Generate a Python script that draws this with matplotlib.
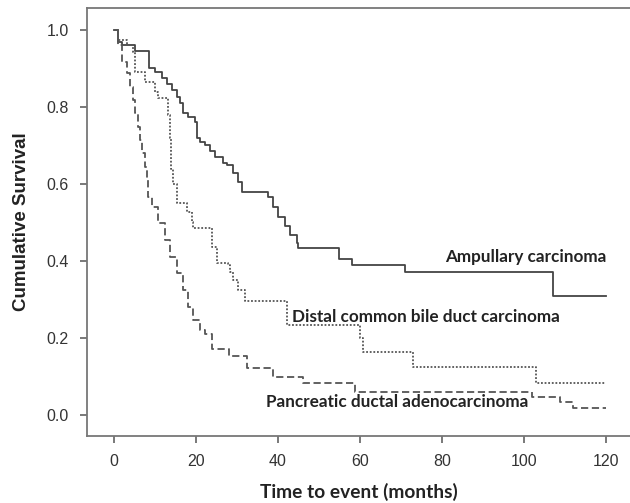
import matplotlib
matplotlib.use("Agg")
import matplotlib.pyplot as plt


# Kaplan-Meier steps (months, cumulative survival):

amp_t = [0, 1, 2, 5, 8.5, 10, 11.7, 13, 14.1, 15.4, 16, 16.8, 18, 19.8, 20.2,
         21, 22.2, 23.5, 24.6, 26.6, 27.5, 29, 30.2, 31.2, 37.6, 38.8, 40,
         41.7, 42.9, 44.6, 45, 55, 58, 71, 107, 120]
amp_s = [1.0, 0.97, 0.96, 0.945, 0.90, 0.89, 0.875, 0.86, 0.845, 0.825, 0.81,
         0.785, 0.775, 0.76, 0.72, 0.71, 0.70, 0.685, 0.67, 0.655, 0.649,
         0.628, 0.605, 0.58, 0.566, 0.54, 0.514, 0.49, 0.468, 0.447, 0.434,
         0.405, 0.39, 0.372, 0.31, 0.31]

dist_t = [0, 1, 3.2, 4.6, 5.1, 7.6, 10, 10.7, 13.2, 13.6, 14.0, 14.5, 15.4,
          17.8, 19.0, 19.3, 23.9, 25.1, 27.8, 28.3, 29.0, 30.2, 32.0, 42.2,
          60, 60.7, 73, 103, 120]
dist_s = [1.0, 0.974, 0.96, 0.943, 0.89, 0.865, 0.84, 0.823, 0.78, 0.72,
          0.64, 0.60, 0.55, 0.527, 0.50, 0.486, 0.436, 0.395, 0.39, 0.372,
          0.35, 0.325, 0.296, 0.234, 0.20, 0.164, 0.125, 0.083, 0.083]

panc_t = [0, 1, 2, 3.2, 3.9, 4.6, 5.1, 5.9, 6.3, 6.8, 7.6, 8, 8.3, 9.3, 10.7,
          12.4, 13.7, 15.4, 16.8, 18, 19.3, 21, 22.2, 24, 28, 32.5, 38.8, 46,
          58.8, 102, 108.8, 112, 120]
panc_s = [1.0, 0.96, 0.917, 0.888, 0.852, 0.818, 0.784, 0.748, 0.714, 0.68,
          0.644, 0.61, 0.566, 0.54, 0.498, 0.455, 0.41, 0.369, 0.325, 0.281,
          0.247, 0.221, 0.21, 0.171, 0.153, 0.122, 0.10, 0.083, 0.06, 0.047,
          0.034, 0.018, 0.018]

x_ticks = [0, 20, 40, 60, 80, 100, 120]
y_ticks = [0.0, 0.2, 0.4, 0.6, 0.8, 1.0]

# Figure setup:

fig = plt.figure(figsize=(6.3, 5.03), dpi=100)
ax = fig.add_axes([87 / 630, 67 / 503, 1 - 87 / 630, 428 / 503])

ax.step(amp_t, amp_s, where="post", color="#444444", lw=1.3)
ax.step(dist_t, dist_s, where="post", color="#555555", lw=1.3,
        linestyle=(0, (1, 1)))
ax.step(panc_t, panc_s, where="post", color="#555555", lw=1.3,
        linestyle=(0, (4, 2)))

ax.set_xlim(-6.6, 125.9)
ax.set_ylim(-0.0545, 1.057)

ax.set_xticks(x_ticks)
ax.set_yticks(y_ticks)
ax.set_yticklabels([f"{v:.1f}" for v in y_ticks])

for side in ["left", "bottom", "top"]:
    ax.spines[side].set_color("#777777")
    ax.spines[side].set_linewidth(1.3)
ax.spines["right"].set_visible(False)

ax.tick_params(length=5, width=1.1, color="#555555", labelcolor="#333333",
               labelsize=11.5, pad=8)
for lbl in ax.get_xticklabels() + ax.get_yticklabels():
    lbl.set_family("Liberation Sans")

# Curve labels:

label_style = dict(family="Lato", fontweight="bold", fontsize=12.3,
                   color="#222222", va="center")
ax.text(120.2, 0.41, "Ampullary carcinoma", ha="right", **label_style)
ax.text(43.4, 0.255, "Distal common bile duct carcinoma", ha="left",
        **label_style)
ax.text(101, 0.034, "Pancreatic ductal adenocarcinoma", ha="right",
        **label_style)

ax.set_xlabel("Time to event (months)", family="Lato", fontweight="bold",
              fontsize=13.8, color="#222222", labelpad=10)
ax.set_ylabel("Cumulative Survival", family="Liberation Sans",
              fontweight="bold", fontsize=13.5, color="#222222", labelpad=12)

fig.savefig("out.png", dpi=100)
